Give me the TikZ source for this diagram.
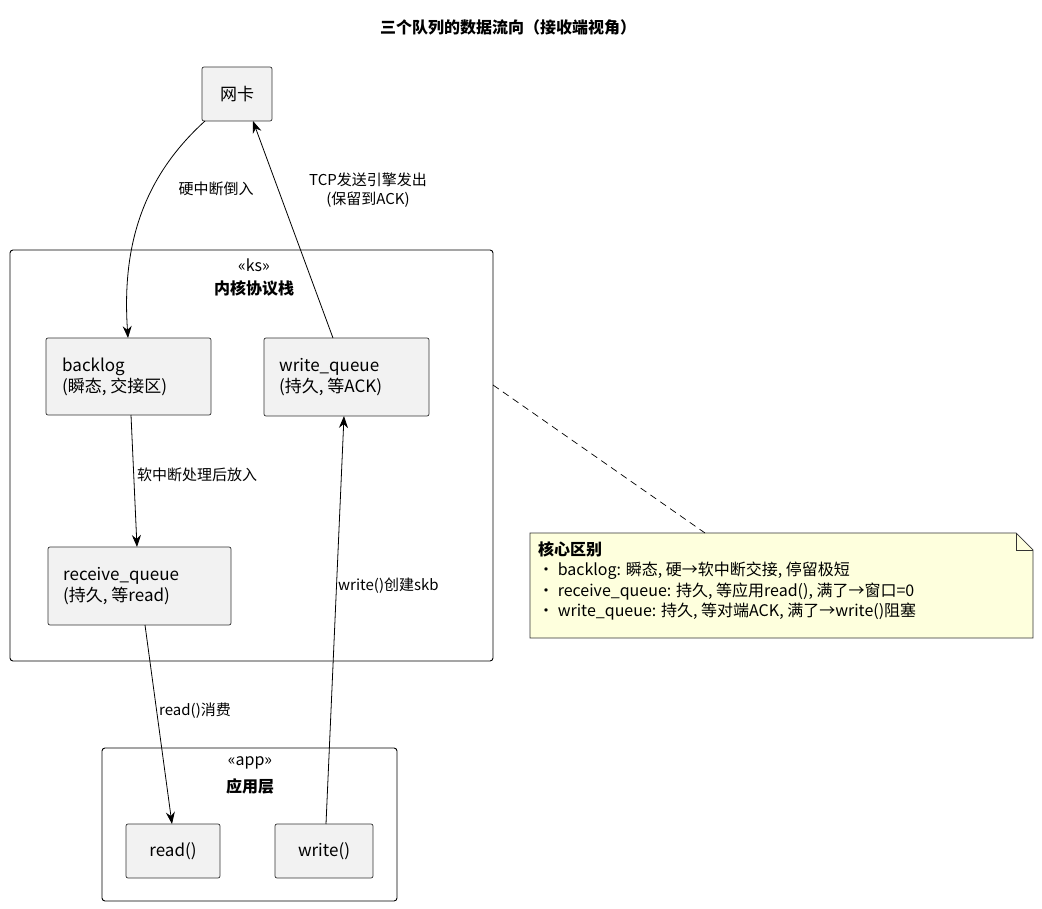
\documentclass[tikz,border=0pt]{standalone}
\usepackage{fontspec}
\setmainfont{Noto Sans CJK SC}
\usetikzlibrary{arrows.meta}
\tikzset{
  box/.style={draw=black!80,fill=black!5,rounded corners=2pt,line width=0.7pt},
  pkg/.style={draw=black,rounded corners=3pt,line width=0.9pt},
  txt/.style={inner sep=0pt,font=\fontsize{17}{21}\selectfont,align=left},
  lbl/.style={inner sep=0pt,font=\fontsize{15}{19}\selectfont,align=center},
  flow/.style={-{Stealth[length=12pt,width=9pt,inset=4pt]},line width=0.8pt}
}
\begin{document}
\begin{tikzpicture}[x=1pt,y=-1pt]
\useasboundingbox (0,0) rectangle (1042,909);

% title
\node[lbl,font=\fontsize{16}{19}\selectfont\bfseries] (title) at (508,27) {三个队列的数据流向（接收端视角）};

% packages
\draw[pkg] (10,250) rectangle (493,661);
\node[lbl,font=\fontsize{16}{19}\selectfont\itshape] (ksst) at (254,265) {«ks»};
\node[lbl,font=\fontsize{16}{19}\selectfont\bfseries] (ksname) at (254,288) {内核协议栈};
\draw[pkg] (102,748) rectangle (397,901);
\node[lbl,font=\fontsize{16}{19}\selectfont\itshape] (appst) at (250,763) {«app»};
\node[lbl,font=\fontsize{16}{19}\selectfont\bfseries] (appname) at (250,786) {应用层};

% boxes
\draw[box] (202,67) rectangle (272,121);
\node[txt] (nic) at (237,94) {网卡};
\draw[box] (46,338) rectangle (211,415);
\node[txt,anchor=west] (backlog) at (62,377) {backlog\\(瞬态, 交接区)};
\draw[box] (264,338) rectangle (429,416);
\node[txt,anchor=west] (wq) at (279,377) {write\_queue\\(持久, 等ACK)};
\draw[box] (48,547) rectangle (231,625);
\node[txt,anchor=west] (rq) at (63,586) {receive\_queue\\(持久, 等read)};
\draw[box] (126,824) rectangle (220,878);
\node[txt] (rd) at (173,851) {read()};
\draw[box] (275,824) rectangle (373,878);
\node[txt] (wr) at (324,851) {write()};

% note
\draw[fill={rgb,255:red,254;green,255;blue,221},draw=black!80,line width=0.7pt]
  (530,533) -- (1016,533) -- (1033,550) -- (1033,638) -- (530,638) -- cycle;
\draw[draw=black!80,line width=0.7pt] (1016,533) -- (1016,550) -- (1033,550);
\node[txt,anchor=north west,font=\fontsize{16}{20.5}\selectfont] (note) at (538,541)
  {\textbf{核心区别}\\· backlog: 瞬态, 硬→软中断交接, 停留极短\\· receive\_queue: 持久, 等应用read(), 满了→窗口=0\\· write\_queue: 持久, 等对端ACK, 满了→write()阻塞};
\coordinate (ksedge) at (493,385);
\coordinate (notetop) at (705,533);
\draw[dash pattern=on 7pt off 5pt,line width=0.7pt] (ksedge) -- (notetop);

% flows
\coordinate (nicbot) at (205,121);
\coordinate (bltop) at (128,338);
\draw[flow] (nicbot) .. controls (140,180) and (122,250) .. (bltop);
\node[lbl] (l1) at (216,189) {硬中断倒入};
\coordinate (wqtop) at (333,338);
\coordinate (nicb2) at (253,121);
\draw[flow] (wqtop) -- (nicb2);
\node[lbl] (l2) at (368,190) {TCP发送引擎发出\\(保留到ACK)};
\draw[flow] (131,415) -- (137,547);
\node[lbl,anchor=west] (l3) at (137,475) {软中断处理后放入};
\draw[flow] (145,625) -- (172,824);
\node[lbl,anchor=west] (l4) at (159,711) {read()消费};
\draw[flow] (326,824) -- (344,416);
\node[lbl,anchor=west] (l5) at (338,586) {write()创建skb};
\end{tikzpicture}
\end{document}
